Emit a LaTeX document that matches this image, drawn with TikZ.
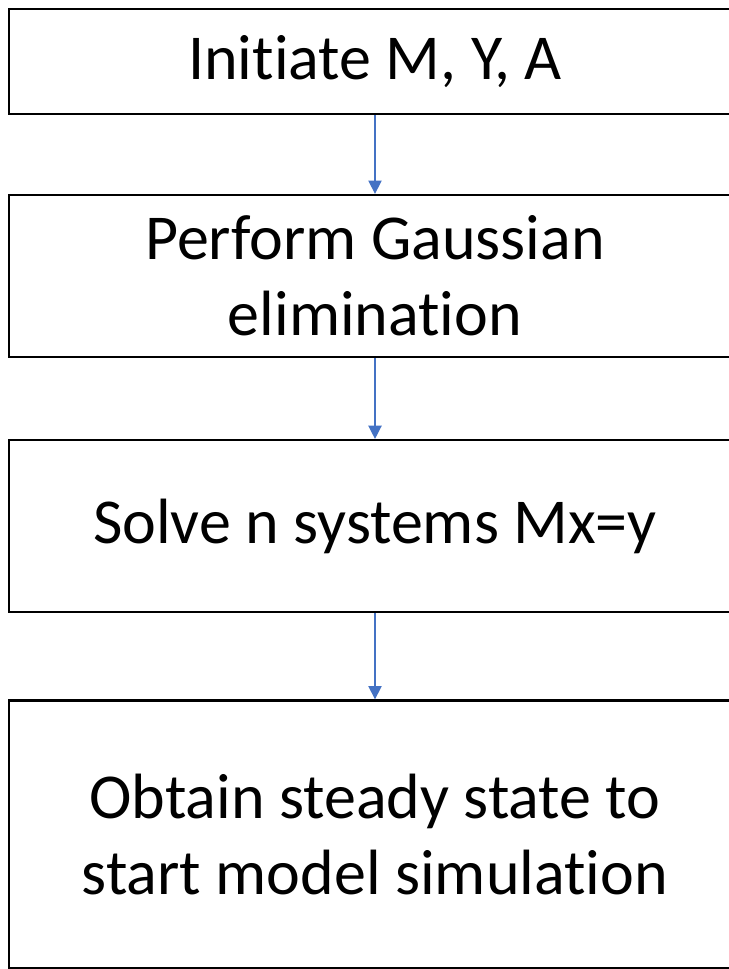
\documentclass[tikz,border=0pt]{standalone}
\usepackage{fontspec}
\setmainfont{Carlito}[Ligatures=NoCommon]
\usepackage{tikz}
\usetikzlibrary{positioning}
\usetikzlibrary{arrows.meta}
\definecolor{flowblue}{RGB}{68,114,196}

\begin{document}
\begin{tikzpicture}[stepbox/.style={draw, line width=1.8pt, minimum width=549pt, align=center, font=\fontsize{48}{57}\selectfont, inner sep=0pt},
        flow/.style={flowblue, line width=1pt, -{Triangle[width=10pt, length=10pt]}}]
        \useasboundingbox (0,0) rectangle (546pt,-726.75pt);

        \node [stepbox, minimum height=78.75pt] (init) at (281.25pt,-46.125pt) {Initiate M, Y, A};
        \node [stepbox, minimum height=121.5pt, below=59pt of init] (gauss) {Perform Gaussian\\elimination};
        \node [stepbox, minimum height=129pt, below=60.5pt of gauss] (solve) {Solve n systems Mx=y};
        \node [stepbox, minimum height=201pt, below=64.5pt of solve] (steady) {Obtain steady state to\\start model simulation};

        \draw [flow] (init) -- (gauss);
        \draw [flow] (gauss) -- (solve);
        \draw [flow] (solve) -- (steady);
    \end{tikzpicture}
\end{document}
